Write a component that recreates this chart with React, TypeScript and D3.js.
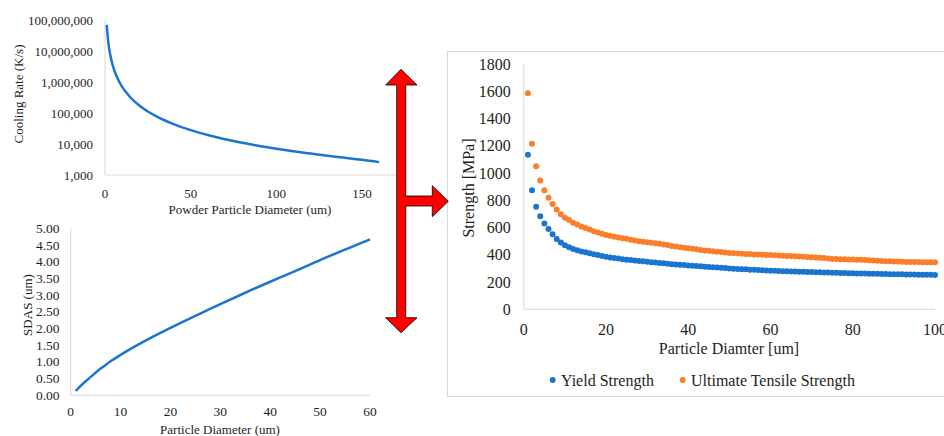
import React from "react";
import * as d3 from "d3";

// Cooling rate vs powder particle diameter
const coolingDiameter = [1, 2, 3, 4, 5, 6, 8, 10, 12, 15, 20, 25, 30, 40, 50, 60, 70, 80, 90, 100, 110, 120, 130, 140, 150, 160];
const coolingRate = [7e7, 1.75e7, 7.8e6, 4.4e6, 2.8e6, 1.95e6, 1.1e6, 7.0e5, 4.9e5, 3.1e5, 1.75e5, 1.12e5, 7.8e4, 4.4e4, 2.8e4, 1.95e4, 1.43e4, 1.1e4, 8.6e3, 7.0e3, 5.8e3, 4.9e3, 4.15e3, 3.6e3, 3.1e3, 2.6e3];
const coolingTicksY = [1e3, 1e4, 1e5, 1e6, 1e7, 1e8];
const coolingTicksX = [0, 50, 100, 150];

// Secondary dendrite arm spacing vs particle diameter
const sdasDiameter = [1, 2, 3, 4, 5, 6, 7, 8, 10, 12, 15, 20, 25, 30, 35, 40, 45, 50, 55, 60];
const sdasValue = [0.13, 0.28, 0.42, 0.55, 0.68, 0.8, 0.91, 1.02, 1.21, 1.39, 1.64, 2.02, 2.38, 2.73, 3.07, 3.4, 3.72, 4.05, 4.36, 4.67];
const sdasTicksY = [0, 0.5, 1, 1.5, 2, 2.5, 3, 3.5, 4, 4.5, 5];
const sdasTicksX = [0, 10, 20, 30, 40, 50, 60];

// Strength vs particle diameter, one point per micron
const strengthDiameter = d3.range(1, 101);
const yieldStrength = [
  1134, 873, 753, 682, 630, 589, 550, 516, 490, 470,
  455, 443, 434, 425, 418, 411, 404, 398, 392, 386,
  381, 376, 372, 368, 364, 361, 358, 355, 352, 349,
  346, 343, 340, 337, 334, 331, 329, 327, 325, 322,
  320, 318, 315, 313, 311, 309, 307, 305, 303, 300,
  298, 296, 294, 293, 291, 290, 288, 287, 285, 283,
  282, 281, 280, 279, 278, 277, 276, 275, 274, 273,
  272, 271, 270, 270, 269, 268, 267, 266, 265, 264,
  263, 262, 262, 261, 260, 260, 259, 259, 258, 258,
  257, 257, 256, 255, 255, 254, 254, 253, 253, 252,
];
const tensileStrength = [
  1585, 1215, 1049, 946, 873, 819, 773, 732, 698, 672,
  655, 635, 622, 608, 596, 585, 573, 563, 554, 546,
  539, 533, 527, 522, 517, 511, 505, 500, 496, 492,
  488, 485, 481, 476, 471, 465, 460, 456, 452, 448,
  444, 440, 436, 432, 429, 426, 423, 420, 417, 414,
  412, 410, 408, 406, 405, 403, 402, 400, 399, 398,
  396, 395, 393, 392, 391, 389, 388, 386, 384, 382,
  380, 378, 376, 373, 370, 369, 368, 367, 366, 365,
  364, 363, 362, 360, 358, 356, 354, 353, 352, 351,
  350, 349, 348, 348, 347, 347, 346, 346, 345, 345,
];
const strengthTicksY = [0, 200, 400, 600, 800, 1000, 1200, 1400, 1600, 1800];
const strengthTicksX = [0, 20, 40, 60, 80, 100];
const seriesNames = ["Yield Strength", "Ultimate Tensile Strength"];

const BLUE = "#1b74cf";
const ORANGE = "#fd7e2a";
const AXIS = "#d9d9d9";
const TEXT = "#1e1e1e";
const FONT = '"Liberation Serif", "Times New Roman", Times, serif';

export default function App() {
  // top-left: log cooling rate
  const cx = d3.scaleLinear().domain([0, 150]).range([105, 362]);
  const cy = d3.scaleLog().domain([1e3, 1e8]).range([175, 20]);
  const coolingLine = d3
    .line<number>()
    .x((_, i) => cx(coolingDiameter[i]))
    .y((v) => cy(v))
    .curve(d3.curveMonotoneX)(coolingRate);

  // bottom-left: SDAS
  const sx = d3.scaleLinear().domain([0, 60]).range([70.7, 370]);
  const sy = d3.scaleLinear().domain([0, 5]).range([395.3, 228.3]);
  const sdasLine = d3
    .line<number>()
    .x((_, i) => sx(sdasDiameter[i]))
    .y((v) => sy(v))
    .curve(d3.curveNatural)(sdasValue);

  // right: strength scatter
  const px = d3.scaleLinear().domain([0, 100]).range([523.8, 935]);
  const py = d3.scaleLinear().domain([0, 1800]).range([309.3, 64]);

  const fmtComma = d3.format(",");
  const fmt2 = d3.format(".2f");
  const ts = { fontFamily: FONT };

  return (
    <svg
      width={944}
      height={436}
      style={{ position: "absolute", left: 0, top: 0, background: "#fff", fontFamily: FONT }}
    >
      <rect x={0} y={0} width={944} height={436} fill="#fff" />

      {/* Cooling rate chart */}
      <g>
        <line x1={105} x2={105} y1={cy(1e8)} y2={cy(1e3)} stroke={AXIS} />
        <line x1={105} x2={400} y1={cy(1e3)} y2={cy(1e3)} stroke={AXIS} />
        {coolingTicksY.map((t) => (
          <text key={t} style={ts} x={93} y={cy(t)} textAnchor="end" dominantBaseline="central" fontSize={13} fill={TEXT}>
            {fmtComma(t)}
          </text>
        ))}
        {coolingTicksX.map((t) => (
          <text key={t} style={ts} x={cx(t)} y={193} textAnchor="middle" dominantBaseline="central" fontSize={13} fill={TEXT}>
            {t}
          </text>
        ))}
        <path d={coolingLine || ""} fill="none" stroke={BLUE} strokeWidth={2.5} />
        <text style={ts} x={250} y={209} textAnchor="middle" dominantBaseline="central" fontSize={13} fill={TEXT}>
          Powder Particle Diameter (um)
        </text>
        <text
          style={ts}
          transform="translate(18,94) rotate(-90)"
          textAnchor="middle"
          dominantBaseline="central"
          fontSize={13}
          fill={TEXT}
        >
          Cooling Rate (K/s)
        </text>
      </g>

      {/* SDAS chart */}
      <g>
        <line x1={sx(0)} x2={sx(0)} y1={sy(5)} y2={sy(0)} stroke={AXIS} />
        <line x1={sx(0)} x2={sx(60)} y1={sy(0)} y2={sy(0)} stroke={AXIS} />
        {sdasTicksY.map((t) => (
          <text key={t} style={ts} x={59.5} y={sy(t)} textAnchor="end" dominantBaseline="central" fontSize={13.5} fill={TEXT}>
            {fmt2(t)}
          </text>
        ))}
        {sdasTicksX.map((t) => (
          <text key={t} style={ts} x={sx(t)} y={411.7} textAnchor="middle" dominantBaseline="central" fontSize={13.5} fill={TEXT}>
            {t}
          </text>
        ))}
        <path d={sdasLine || ""} fill="none" stroke={BLUE} strokeWidth={2.5} />
        <text style={ts} x={220} y={429} textAnchor="middle" dominantBaseline="central" fontSize={13} fill={TEXT}>
          Particle Diameter (um)
        </text>
        <text
          style={ts}
          transform="translate(27,305) rotate(-90)"
          textAnchor="middle"
          dominantBaseline="central"
          fontSize={13}
          fill={TEXT}
        >
          SDAS (um)
        </text>
      </g>

      {/* Strength chart */}
      <g>
        <rect x={447.5} y={51.5} width={520} height={345} fill="#fff" stroke={AXIS} />
        <line x1={px(0)} x2={px(0)} y1={py(1800)} y2={py(0)} stroke={AXIS} />
        <line x1={px(0)} x2={px(100)} y1={py(0)} y2={py(0)} stroke={AXIS} />
        {strengthTicksY.map((t) => (
          <text key={t} style={ts} x={510.7} y={py(t)} textAnchor="end" dominantBaseline="central" fontSize={16} fill={TEXT}>
            {t}
          </text>
        ))}
        {strengthTicksX.map((t) => (
          <text key={t} style={ts} x={px(t)} y={329} textAnchor="middle" dominantBaseline="central" fontSize={16} fill={TEXT}>
            {t}
          </text>
        ))}
        {strengthDiameter.map((d, i) => (
          <circle key={"y" + d} cx={px(d)} cy={py(yieldStrength[i])} r={3} fill={BLUE} />
        ))}
        {strengthDiameter.map((d, i) => (
          <circle key={"u" + d} cx={px(d)} cy={py(tensileStrength[i])} r={3} fill={ORANGE} />
        ))}
        <text style={ts} x={729} y={348} textAnchor="middle" dominantBaseline="central" fontSize={16} fill={TEXT}>
          Particle Diamter [um]
        </text>
        <text
          style={ts}
          transform="translate(468,188) rotate(-90)"
          textAnchor="middle"
          dominantBaseline="central"
          fontSize={16}
          fill={TEXT}
        >
          Strength [MPa]
        </text>
        <circle cx={552.7} cy={380} r={3} fill={BLUE} />
        <text style={ts} x={561} y={380} dominantBaseline="central" fontSize={16} fill={TEXT}>
          {seriesNames[0]}
        </text>
        <circle cx={682.7} cy={380} r={3} fill={ORANGE} />
        <text style={ts} x={691} y={380} dominantBaseline="central" fontSize={16} fill={TEXT}>
          {seriesNames[1]}
        </text>
      </g>

      {/* Connector arrow */}
      <path
        d="M401,69.3 L417,85 L405.7,85 L405.7,196 L432.3,196 L432.3,185.7 L448.3,201.3 L432.3,216.7 L432.3,206 L405.7,206 L405.7,317.7 L417,317.7 L401,332.7 L385.7,317.7 L396.7,317.7 L396.7,85 L385.7,85 Z"
        fill="#ff0000"
        stroke="#000"
        strokeWidth={0.8}
        strokeLinejoin="miter"
      />
    </svg>
  );
}
